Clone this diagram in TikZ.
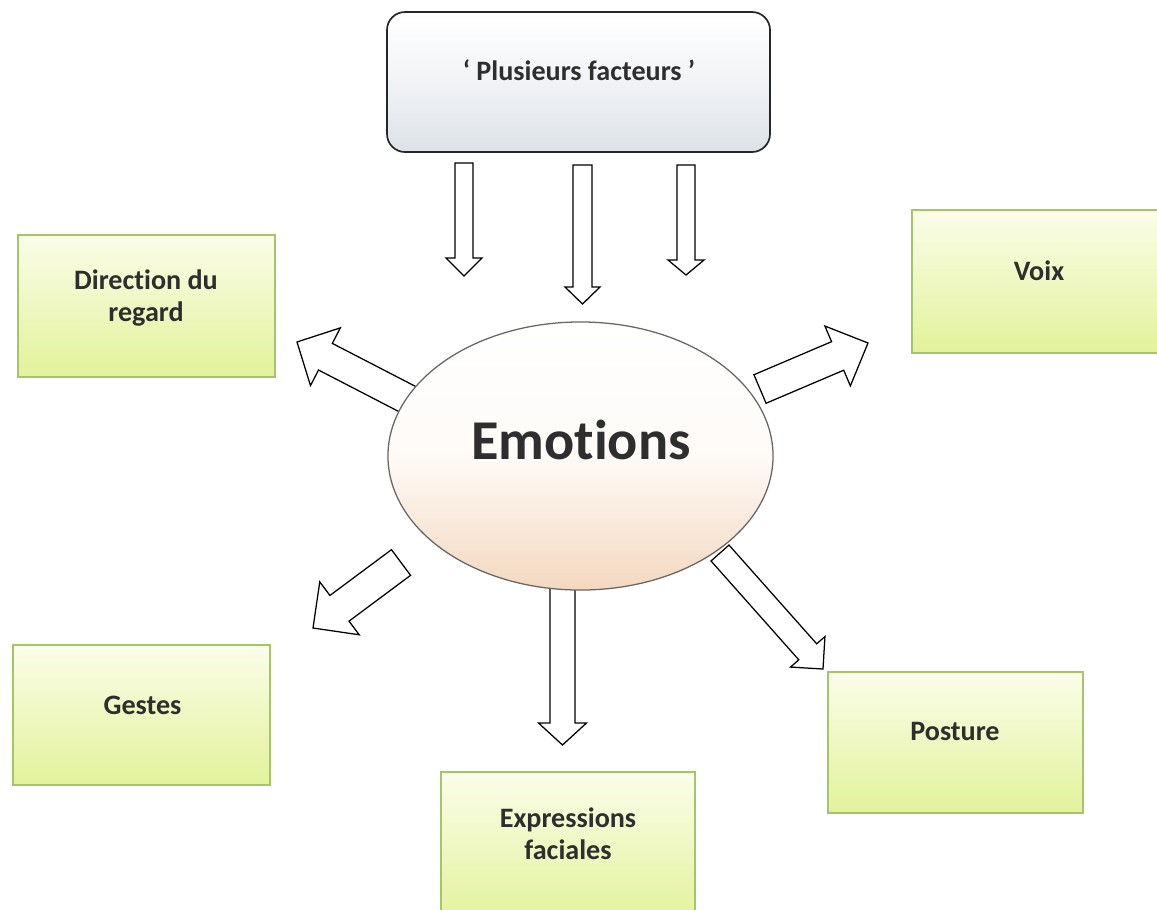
\documentclass[tikz,border=0pt]{standalone}
\usepackage{fontspec}
\setmainfont{Carlito}[Ligatures=NoCommon]
\usetikzlibrary{calc,fit,shapes.geometric}
\definecolor{gtop}{HTML}{FBFDE9}
\definecolor{gbot}{HTML}{E2F29A}
\definecolor{gline}{HTML}{A6C468}
\definecolor{ebot}{HTML}{F4D8BF}
\definecolor{tbot}{HTML}{DCE2E8}
\definecolor{txt}{HTML}{2E2E2E}
\newcommand\blockarrow[5]{%
  \coordinate (ba-h) at ($(#2)!#5*0.025cm!(#1)$);
  \draw[blockarr] ($(#1)!#3*0.025cm!90:(#2)$) -- ($(ba-h)!#3*0.025cm!90:(#2)$)
    -- ($(ba-h)!#4*0.025cm!90:(#2)$) -- (#2) -- ($(ba-h)!#4*0.025cm!-90:(#2)$)
    -- ($(ba-h)!#3*0.025cm!-90:(#2)$) -- ($(#1)!#3*0.025cm!-90:(#2)$) -- cycle;
}
\tikzset{
  blockarr/.style={draw=black, fill=white, line width=0.9pt, line join=miter},
  gbox/.style={draw=gline, line width=0.8pt, top color=gtop, bottom color=gbot, inner sep=0pt},
  topbox/.style={draw=black!85, line width=1.2pt, rounded corners=0.45cm, top color=white, bottom color=tbot, middle color=white!60!tbot, inner sep=0pt},
  emobox/.style={ellipse, draw=black!60, line width=0.9pt, top color=white, bottom color=ebot, middle color=white!88!ebot, minimum width=9.625cm, minimum height=6.7cm, inner sep=0pt},
  lbl/.style={inner sep=0pt, text=txt, font=\bfseries\fontsize{20}{23}\selectfont, align=center},
}
\begin{document}
\begin{tikzpicture}[x=0.025cm, y=-0.025cm]
\useasboundingbox (0,0) rectangle (1157,909);
\clip (0,0) rectangle (1157,909);
\fill[white] (0,0) rectangle (1157,909);

% top box
\coordinate (t1) at (387,12); \coordinate (t2) at (770,152);
\node[topbox, fit=(t1)(t2)] (top) {};
\node[lbl, font=\bfseries\fontsize{20}{24}\selectfont] (toplbl) at (579,70) {‘ Plusieurs facteurs ’};

% boxes
\coordinate (d1) at (18,235); \coordinate (d2) at (275,377);
\node[gbox, fit=(d1)(d2)] (dir) {};
\node[lbl] (dirlbl) at (146,298) {Direction du\\regard};

\coordinate (v1) at (912,210); \coordinate (v2) at (1175,353);
\node[gbox, fit=(v1)(v2)] (voix) {};
\node[lbl] (voixlbl) at (1039,270.5) {Voix};

\coordinate (g1) at (13,645); \coordinate (g2) at (270,785);
\node[gbox, fit=(g1)(g2)] (gestes) {};
\node[lbl] (geslbl) at (142.5,705.5) {Gestes};

\coordinate (x1) at (441,772); \coordinate (x2) at (695,925);
\node[gbox, fit=(x1)(x2)] (expr) {};
\node[lbl] (exprlbl) at (568,834) {Expressions\\faciales};

\coordinate (p1) at (828,672); \coordinate (p2) at (1083,813);
\node[gbox, fit=(p1)(p2)] (post) {};
\node[lbl] (postlbl) at (955,731) {Posture};

% arrow end points
\coordinate (top-a1) at (464,163);   \coordinate (emo-a1) at (464,276);
\coordinate (top-a2) at (582.5,165); \coordinate (emo-a2) at (582.5,304);
\coordinate (top-a3) at (686,165);   \coordinate (emo-a3) at (686,275);
\coordinate (emo-dir) at (413,402);  \coordinate (dir-in) at (297,342);
\coordinate (emo-voix) at (760,389); \coordinate (voix-in) at (868,343);
\coordinate (emo-ges) at (401,562.5);\coordinate (ges-in) at (313,628);
\coordinate (emo-expr) at (562.5,585); \coordinate (expr-in) at (562.5,745);
\coordinate (emo-post) at (720,553); \coordinate (post-in) at (823,669);

\blockarrow{top-a1}{emo-a1}{9}{18}{18}
\blockarrow{top-a2}{emo-a2}{9.5}{17.5}{17}
\blockarrow{top-a3}{emo-a3}{9}{18}{15}
\blockarrow{emo-dir}{dir-in}{15}{32.5}{32}
\blockarrow{emo-voix}{voix-in}{15.5}{32.5}{33}
\blockarrow{emo-ges}{ges-in}{16}{33}{33}
\blockarrow{emo-expr}{expr-in}{12.5}{24}{22}
\blockarrow{emo-post}{post-in}{12}{23}{23}

% ellipse
\node[emobox] (emo) at (580.5,456) {};
\node[lbl, font=\bfseries\fontsize{40}{46}\selectfont] (emolbl) at (581,440) {Emotions};
\end{tikzpicture}
\end{document}
